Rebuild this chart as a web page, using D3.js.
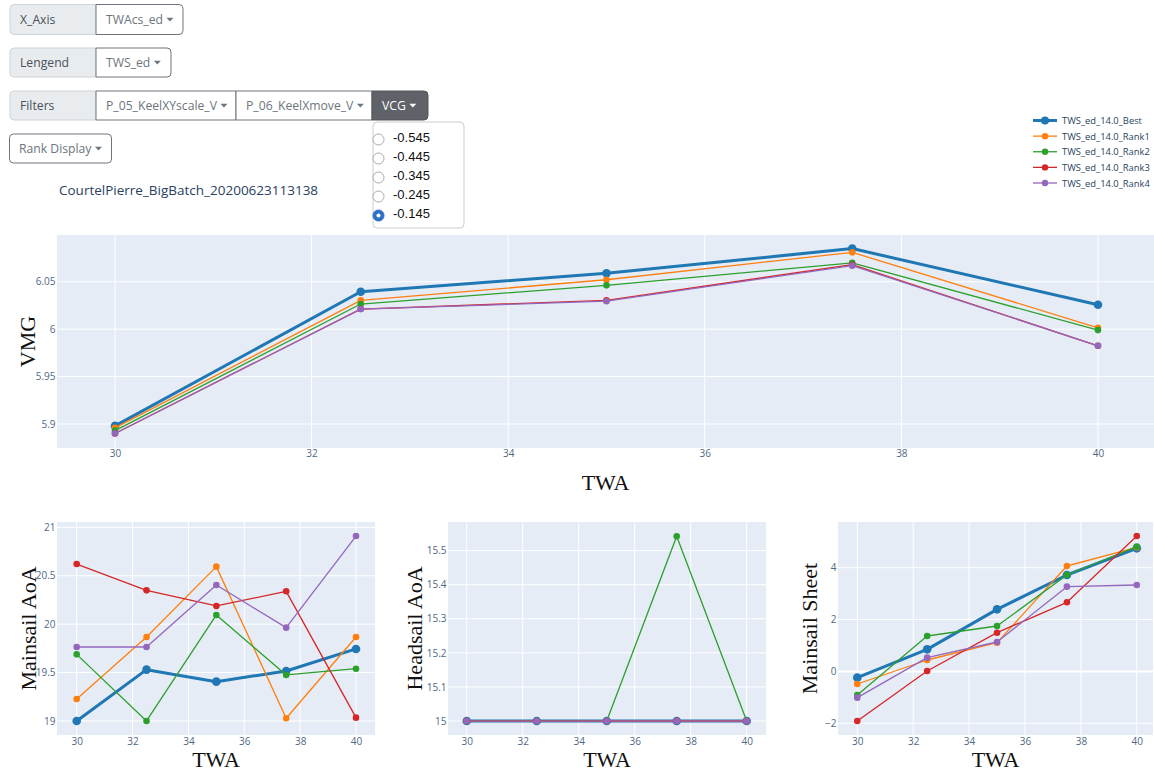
<!DOCTYPE html>
<html>
<head>
<meta charset="utf-8">
<script src="https://cdn.jsdelivr.net/npm/d3@7"></script>
<style>
  body { margin: 0; background: #fff; }
  svg { display: block; }
</style>
</head>
<body>
<div class="chart"></div>
<script>
var width = 1154;
var height = 771;

// data
var twa = [30, 32.5, 35, 37.5, 40];
var seriesNames = ["TWS_ed_14.0_Best", "TWS_ed_14.0_Rank1", "TWS_ed_14.0_Rank2", "TWS_ed_14.0_Rank3", "TWS_ed_14.0_Rank4"];
var vmg = [
    [5.898, 6.0395, 6.0589, 6.085, 6.0257],
    [5.896, 6.0304, 6.0521, 6.081, 6.0014],
    [5.893, 6.0265, 6.0462, 6.070, 5.999],
    [5.890, 6.0212, 6.0304, 6.068, 5.9825],
    [5.890, 6.0212, 6.0295, 6.067, 5.9825]
];
var mainsailAoa = [
    [19.0, 19.53, 19.406, 19.516, 19.744],
    [19.227, 19.867, 20.594, 19.028, 19.867],
    [19.688, 19.0, 20.095, 19.475, 19.54],
    [20.621, 20.349, 20.188, 20.339, 19.034],
    [19.764, 19.764, 20.404, 19.964, 20.91]
];
var headsailAoa = [
    [15, 15, 15, 15, 15],
    [15, 15, 15, 15, 15],
    [15, 15, 15, 15.542, 15],
    [15, 15, 15, 15, 15],
    [15, 15, 15, 15, 15]
];
var mainsailSheet = [
    [-0.24, 0.852, 2.394, 3.717, 4.745],
    [-0.484, 0.441, 1.109, 4.064, 4.78],
    [-0.908, 1.366, 1.751, 3.717, 4.81],
    [-1.91, 0.017, 1.494, 2.664, 5.22],
    [-1.011, 0.531, 1.135, 3.268, 3.332]
];
var xTicks = [30, 32, 34, 36, 38, 40];
var vmgTicks = [5.9, 5.95, 6, 6.05];
var mainsailAoaTicks = [19, 19.5, 20, 20.5, 21];
var headsailAoaTicks = [15, 15.1, 15.2, 15.3, 15.4, 15.5];
var mainsailSheetTicks = [-2, 0, 2, 4];
var vcgOptions = ["-0.545", "-0.445", "-0.345", "-0.245", "-0.145"];
var vcgSelected = 4;

var colors = ["#1f77b4", "#ff7f0e", "#2ca02c", "#d62728", "#9467bd"];
var plotFont = "'Open Sans', sans-serif";
var titleFont = "'Liberation Serif', 'Times New Roman', serif";
var uiSize = "12.2px";

function tickText(v) {
    return v < 0 ? "\u2212" + Math.abs(v) : String(v);
}

function build_svg(c) {
    return c.append("svg").attr("width", width).attr("height", height);
}

function build_plot(s, p, data) {
    var x = d3.scaleLinear().domain(p.xDomain).range([p.x0, p.x1]);
    var y = d3.scaleLinear().domain(p.yDomain).range([p.y1, p.y0]);
    var g = s.append("g");

    g.append("rect").attr("x", p.x0).attr("y", p.y0)
        .attr("width", p.x1 - p.x0).attr("height", p.y1 - p.y0)
        .attr("fill", "#e5ecf6");

    var grid = g.append("g").attr("stroke", "#fff").attr("stroke-width", 1);
    xTicks.forEach(function(t) {
        grid.append("line").attr("x1", x(t)).attr("x2", x(t))
            .attr("y1", p.y0).attr("y2", p.y1);
    });
    p.yTicks.forEach(function(t) {
        grid.append("line").attr("x1", p.x0).attr("x2", p.x1)
            .attr("y1", y(t)).attr("y2", y(t))
            .attr("stroke-width", t === 0 ? 2 : 1);
    });

    // axes via d3 axis generators, domain/ticks lines hidden
    var xAxis = d3.axisBottom(x).tickValues(xTicks).tickSize(0).tickPadding(p.xPad).tickFormat(tickText);
    var yAxis = d3.axisLeft(y).tickValues(p.yTicks).tickSize(0).tickPadding(1.5).tickFormat(tickText);
    var ax = g.append("g").attr("transform", "translate(0," + p.y1 + ")").call(xAxis);
    var ay = g.append("g").attr("transform", "translate(" + p.x0 + ",0)").call(yAxis);
    [ax, ay].forEach(function(a) {
        a.select(".domain").remove();
        a.selectAll("text").attr("fill", "#506784")
            .style("font-family", plotFont).style("font-size", "10px");
    });

    var line = d3.line().x(function(d, i) { return x(twa[i]); }).y(function(d) { return y(d); });
    data.forEach(function(vals, k) {
        var best = k === 0;
        g.append("path").datum(vals).attr("d", line)
            .attr("fill", "none").attr("stroke", colors[k])
            .attr("stroke-width", best ? 3 : 1.3)
            .attr("stroke-linejoin", "round");
        g.selectAll(".m" + k).data(vals).enter().append("circle")
            .attr("cx", function(d, i) { return x(twa[i]); })
            .attr("cy", function(d) { return y(d); })
            .attr("r", best ? 4.3 : 3.3)
            .attr("fill", colors[k]);
    });

    g.append("text").attr("x", (p.x0 + p.x1) / 2).attr("y", p.xTitleY)
        .attr("text-anchor", "middle")
        .style("font-family", titleFont).style("font-size", "22px").attr("fill", "#111")
        .text("TWA");
    g.append("text")
        .attr("transform", "translate(" + p.yTitleX + "," + ((p.y0 + p.y1) / 2) + ") rotate(-90)")
        .attr("text-anchor", "middle")
        .style("font-family", titleFont).style("font-size", "22px").attr("fill", "#111")
        .text(p.yTitle);
}

function caret(g, cx, cy, col) {
    g.append("path").attr("d", "M" + (cx - 3.5) + "," + (cy - 1.8) + "L" + (cx + 3.5) + "," + (cy - 1.8) + "L" + cx + "," + (cy + 2))
        .attr("fill", col);
}

function uiText(g, x, y, txt, col) {
    return g.append("text").attr("x", x).attr("y", y).attr("dominant-baseline", "central")
        .style("font-family", "'Open Sans', sans-serif").style("font-size", uiSize)
        .attr("fill", col).text(txt);
}

function roundedPath(x0, y0, x1, y1, rl, rr) {
    return "M" + (x0 + rl) + "," + y0 + "H" + (x1 - rr) +
        (rr ? "A" + rr + "," + rr + " 0 0 1 " + x1 + "," + (y0 + rr) : "") +
        "V" + (y1 - rr) +
        (rr ? "A" + rr + "," + rr + " 0 0 1 " + (x1 - rr) + "," + y1 : "") +
        "H" + (x0 + rl) +
        (rl ? "A" + rl + "," + rl + " 0 0 1 " + x0 + "," + (y1 - rl) : "") +
        "V" + (y0 + rl) +
        (rl ? "A" + rl + "," + rl + " 0 0 1 " + (x0 + rl) + "," + y0 : "") + "Z";
}

function build_group(s, y0, y1, label, buttons) {
    var g = s.append("g");
    var cy = (y0 + y1) / 2;
    g.append("path").attr("d", roundedPath(10, y0, 96, y1, 4, 0))
        .attr("fill", "#e9ecef").attr("stroke", "#ced4da");
    uiText(g, 20, cy, label, "#495057");
    buttons.forEach(function(b, i) {
        var last = i === buttons.length - 1;
        var col = b.dark ? "#fff" : "#6c757d";
        g.append("path").attr("d", roundedPath(b.x0, y0, b.x1, y1, 0, last ? 4 : 0))
            .attr("fill", b.dark ? "#5f6369" : "#fff").attr("stroke", b.dark ? "#55595e" : "#6c757d");
        var t = uiText(g, b.x0 + 10, cy, b.text, col);
        caret(g, b.x0 + 10 + t.node().getComputedTextLength() + 7, cy, col);
    });
}

function build_controls(s) {
    build_group(s, 4.5, 34.5, "X_Axis", [{x0: 96, x1: 183, text: "TWAcs_ed"}]);
    build_group(s, 48, 77, "Lengend", [{x0: 96, x1: 171, text: "TWS_ed"}]);
    build_group(s, 91, 120, "Filters", [
        {x0: 96, x1: 236, text: "P_05_KeelXYscale_V"},
        {x0: 236, x1: 372, text: "P_06_KeelXmove_V"},
        {x0: 372, x1: 428, text: "VCG", dark: true}
    ]);

    var rk = s.append("g");
    rk.append("rect").attr("x", 9.5).attr("y", 134).attr("width", 102).attr("height", 29)
        .attr("rx", 4).attr("fill", "#fff").attr("stroke", "#6c757d");
    var t = uiText(rk, 19, 148.5, "Rank Display", "#6c757d");
    caret(rk, 19 + t.node().getComputedTextLength() + 7, 148.5, "#6c757d");

    s.append("text").attr("x", 59).attr("y", 190).attr("dominant-baseline", "central")
        .style("font-family", "'Open Sans', sans-serif").style("font-size", "13.5px")
        .attr("fill", "#2a3f5f").text("CourtelPierre_BigBatch_20200623113138");
}

function build_dropdown(s) {
    var g = s.append("g");
    g.append("rect").attr("x", 373).attr("y", 122).attr("width", 91).attr("height", 106)
        .attr("rx", 4).attr("fill", "#fff").attr("stroke", "rgba(0,0,0,0.2)");
    var iy = d3.scaleLinear().domain([0, vcgOptions.length - 1]).range([137.5, 213.5]);
    vcgOptions.forEach(function(o, i) {
        var sel = i === vcgSelected;
        g.append("circle").attr("cx", 378.5).attr("cy", iy(i) + 2).attr("r", 5.5)
            .attr("fill", sel ? "#2f6fc6" : "#fff").attr("stroke", sel ? "#2f6fc6" : "#aaa");
        if (sel) g.append("circle").attr("cx", 378.5).attr("cy", iy(i) + 2).attr("r", 2).attr("fill", "#fff");
        g.append("text").attr("x", 393).attr("y", iy(i)).attr("dominant-baseline", "central")
            .style("font-family", "'Liberation Sans', Arial, sans-serif").style("font-size", "13px")
            .attr("fill", "#111").text(o);
    });
}

function build_legend(s) {
    var g = s.append("g");
    var ly = d3.scaleLinear().domain([0, seriesNames.length - 1]).range([120.5, 183]);
    seriesNames.forEach(function(n, k) {
        var best = k === 0;
        g.append("line").attr("x1", 1033).attr("x2", 1057).attr("y1", ly(k)).attr("y2", ly(k))
            .attr("stroke", colors[k]).attr("stroke-width", best ? 3 : 1.3);
        g.append("circle").attr("cx", 1045).attr("cy", ly(k)).attr("r", best ? 4 : 3.2).attr("fill", colors[k]);
        g.append("text").attr("x", 1062).attr("y", ly(k)).attr("dominant-baseline", "central")
            .style("font-family", plotFont).style("font-size", "9.4px").attr("fill", "#2a3f5f")
            .text(n);
    });
}

function main() {
    var container = d3.select(".chart");
    var svg = build_svg(container);

    build_controls(svg);
    build_legend(svg);

    build_plot(svg, {
        x0: 57, x1: 1154, y0: 235, y1: 448,
        xDomain: [29.41, 40.57], yDomain: [5.8747, 6.0993],
        yTicks: vmgTicks, xPad: 2,
        xTitleY: 490, yTitleX: 35, yTitle: "VMG"
    }, vmg);

    build_plot(svg, {
        x0: 57, x1: 375, y0: 522, y1: 735,
        xDomain: [29.295, 40.68], yDomain: [18.855, 21.055],
        yTicks: mainsailAoaTicks, xPad: 3,
        xTitleY: 767, yTitleX: 36, yTitle: "Mainsail AoA"
    }, mainsailAoa);

    build_plot(svg, {
        x0: 448, x1: 766, y0: 522, y1: 735,
        xDomain: [29.33, 40.69], yDomain: [14.959, 15.584],
        yTicks: headsailAoaTicks, xPad: 3,
        xTitleY: 767, yTitleX: 422, yTitle: "Headsail AoA"
    }, headsailAoa);

    build_plot(svg, {
        x0: 838, x1: 1153, y0: 522, y1: 735,
        xDomain: [29.31, 40.58], yDomain: [-2.45, 5.76],
        yTicks: mainsailSheetTicks, xPad: 3,
        xTitleY: 767, yTitleX: 817, yTitle: "Mainsail Sheet"
    }, mainsailSheet);

    build_dropdown(svg);
}

main();
</script>
</body>
</html>
